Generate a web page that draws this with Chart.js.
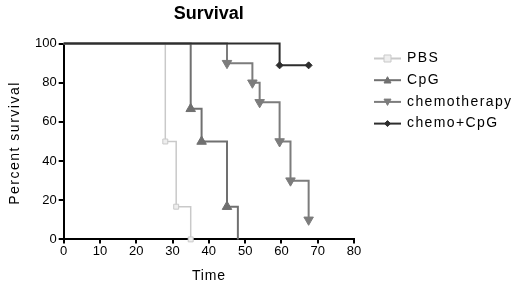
<!DOCTYPE html>
<html>
<head>
<meta charset="utf-8">
<script src="https://cdn.jsdelivr.net/npm/chart.js@4/dist/chart.umd.min.js"></script>
<style>
  body { margin: 0; background: #fff; }
  #wrap { width: 520px; height: 288px; position: relative; }
</style>
</head>
<body>
<div id="wrap"><canvas id="survChart"></canvas></div>
<script>
// Kaplan-Meier steps (time, percent survival)
const seriesNames = ['PBS', 'CpG', 'chemotherapy', 'chemo+CpG'];
const pbsTime = [0, 28, 31, 35];
const pbsSurv = [100, 50, 16.7, 0];
const cpgTime = [0, 35, 38, 45, 48];
const cpgSurv = [100, 66.7, 50, 16.7, 0];
const chemoTime = [0, 45, 52, 54, 59.5, 62.5, 67.5];
const chemoSurv = [100, 90, 80, 70, 50, 30, 10];
const comboTime = [0, 59.5, 67.5];
const comboSurv = [100, 88.9, 88.9];
const xTicks = [0, 10, 20, 30, 40, 50, 60, 70, 80];
const yTicks = [0, 20, 40, 60, 80, 100];

const colors = ['#c9c9c9', '#707070', '#7c7c7c', '#2e2e2e'];
const markers = ['rect', 'triangle', 'triangleDown', 'rectRot'];
const FONT = 'Arial, "Liberation Sans", sans-serif';

function toPoints(t, s) {
    return t.map((x, i) => ({ x: x, y: s[i] }));
}

// no marker at the start point
function radii(n, r, hideLast) {
    const arr = [];
    for (let i = 0; i < n; i++) arr.push(i === 0 ? 0 : r);
    if (hideLast) arr[n - 1] = 0;
    return arr;
}

function makeSet(idx, t, s, r, order, hideLast) {
    const style = markers[idx] === 'triangleDown' ? 'triangle' : markers[idx];
    return {
        label: seriesNames[idx],
        data: toPoints(t, s),
        stepped: 'before',
        borderColor: colors[idx],
        backgroundColor: colors[idx],
        borderWidth: idx === 0 ? 1.5 : 2,
        pointStyle: style,
        pointRotation: markers[idx] === 'triangleDown' ? 180 : 0,
        pointRadius: radii(t.length, r, hideLast),
        pointBackgroundColor: idx === 0 ? '#eeeeee' : colors[idx],
        pointBorderColor: colors[idx],
        pointBorderWidth: 1,
        fill: false,
        clip: 6,
        order: order
    };
}

// small marker drawing for the legend
function drawMarker(ctx, kind, x, y, r, fill, stroke) {
    ctx.save();
    ctx.beginPath();
    if (kind === 'rect') {
        ctx.rect(x - r, y - r, 2 * r, 2 * r);
    } else if (kind === 'triangle') {
        ctx.moveTo(x, y - r);
        ctx.lineTo(x + r, y + r * 0.8);
        ctx.lineTo(x - r, y + r * 0.8);
        ctx.closePath();
    } else if (kind === 'triangleDown') {
        ctx.moveTo(x, y + r);
        ctx.lineTo(x + r, y - r * 0.8);
        ctx.lineTo(x - r, y - r * 0.8);
        ctx.closePath();
    } else {
        ctx.moveTo(x, y - r);
        ctx.lineTo(x + r, y);
        ctx.lineTo(x, y + r);
        ctx.lineTo(x - r, y);
        ctx.closePath();
    }
    ctx.fillStyle = fill;
    ctx.fill();
    ctx.strokeStyle = stroke;
    ctx.lineWidth = 1;
    ctx.stroke();
    ctx.restore();
}

// legend on the right plus the spaced-out axis titles
const sideLegend = {
    id: 'sideLegend',
    afterDraw(chart) {
        const ctx = chart.ctx;
        const area = chart.chartArea;
        const x0 = 374, y0 = 58.5, gap = 21.7;
        ctx.save();
        ctx.font = '14px ' + FONT;
        ctx.letterSpacing = '1.4px';
        ctx.textBaseline = 'middle';
        seriesNames.forEach((name, i) => {
            const y = y0 + i * gap;
            ctx.strokeStyle = colors[i];
            ctx.lineWidth = 2;
            ctx.beginPath();
            ctx.moveTo(x0, y);
            ctx.lineTo(x0 + 27, y);
            ctx.stroke();
            drawMarker(ctx, markers[i], x0 + 13.5, y, i === 3 ? 3 : 3.5,
                i === 0 ? '#eeeeee' : colors[i], colors[i]);
            ctx.fillStyle = '#000';
            ctx.fillText(name, x0 + 33, y);
        });

        ctx.textAlign = 'center';
        ctx.letterSpacing = '0.8px';
        ctx.fillText('Time', (area.left + area.right) / 2, 276);

        ctx.letterSpacing = '1.5px';
        ctx.translate(15, 143);
        ctx.rotate(-Math.PI / 2);
        ctx.fillText('Percent survival', 0, 0);
        ctx.restore();
    }
};

function initChart() {
    const ctx = document.getElementById('survChart').getContext('2d');
    new Chart(ctx, {
        type: 'line',
        data: {
            datasets: [
                makeSet(0, pbsTime, pbsSurv, 3.5, 3, false),
                makeSet(1, cpgTime, cpgSurv, 5.5, 2, true),
                makeSet(2, chemoTime, chemoSurv, 5.5, 1, false),
                makeSet(3, comboTime, comboSurv, 3.5, 0, false)
            ]
        },
        options: {
            responsive: true,
            maintainAspectRatio: false,
            animation: false,
            layout: {
                padding: { left: 33, right: 166, top: 0, bottom: 29 }
            },
            scales: {
                x: {
                    type: 'linear',
                    min: 0,
                    max: 80,
                    afterBuildTicks: (axis) => { axis.ticks = xTicks.map(v => ({ value: v })); },
                    grid: { drawOnChartArea: false, drawTicks: true, tickLength: 4, color: '#000', lineWidth: 2 },
                    border: { display: true, color: '#000', width: 2 },
                    ticks: { color: '#000', padding: 0, maxRotation: 0, font: { size: 13, family: FONT } }
                },
                y: {
                    min: 0,
                    max: 100,
                    afterBuildTicks: (axis) => { axis.ticks = yTicks.map(v => ({ value: v })); },
                    grid: { drawOnChartArea: false, drawTicks: true, tickLength: 5, color: '#000', lineWidth: 2 },
                    border: { display: true, color: '#000', width: 2 },
                    ticks: { color: '#000', padding: 2, font: { size: 13, family: FONT } }
                }
            },
            plugins: {
                legend: { display: false },
                tooltip: { enabled: false },
                title: {
                    display: true,
                    text: 'Survival',
                    fullSize: false,
                    color: '#000',
                    padding: { top: 3, bottom: 19 },
                    font: { size: 18, weight: 'bold', family: FONT }
                }
            }
        },
        plugins: [sideLegend]
    });
}

window.addEventListener('DOMContentLoaded', initChart);
</script>
</body>
</html>
